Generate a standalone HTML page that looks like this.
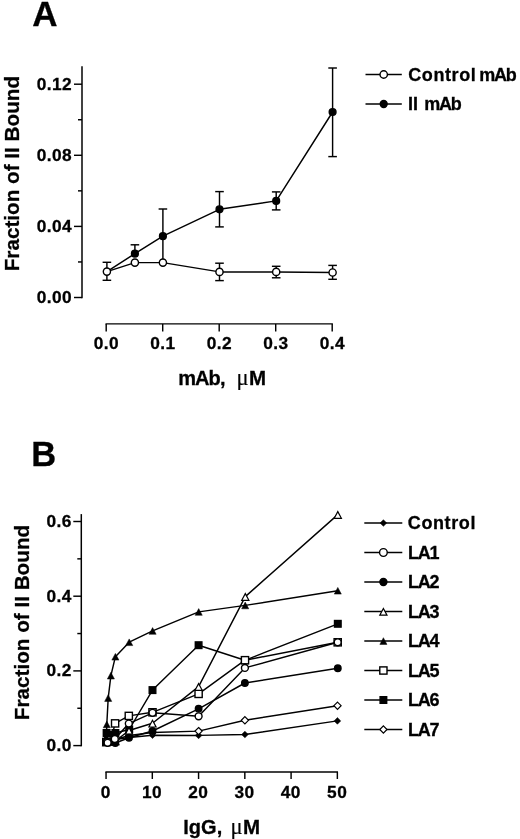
<!DOCTYPE html>
<html lang="en"><head><meta charset="utf-8"><title>Figure</title>
<style>
html,body{margin:0;padding:0;background:#fff;}
body{width:520px;height:839px;overflow:hidden;}
svg{display:block;will-change:transform;}
svg text{font-family:"Liberation Sans", Arial, Helvetica, sans-serif;font-weight:bold;fill:#000;stroke:#000;stroke-width:0.3px;}
</style></head><body>
<svg width="520" height="839" viewBox="0 0 520 839">
<defs><filter id="soft" x="0" y="0" width="520" height="839" filterUnits="userSpaceOnUse"><feGaussianBlur stdDeviation="0.45"/></filter></defs>
<rect width="520" height="839" fill="#fff"/>
<g opacity="0.999" filter="url(#soft)">
<text x="32.30" y="25.90" font-size="35" text-anchor="start" >A</text>
<line x1="82.00" y1="66.30" x2="82.00" y2="298.20" stroke="#000" stroke-width="1.5"/>
<line x1="74.00" y1="297.50" x2="82.00" y2="297.50" stroke="#000" stroke-width="1.45"/>
<text x="72.20" y="302.80" font-size="17.3" text-anchor="end" letter-spacing="0.45" >0.00</text>
<line x1="74.00" y1="226.40" x2="82.00" y2="226.40" stroke="#000" stroke-width="1.45"/>
<text x="72.20" y="231.70" font-size="17.3" text-anchor="end" letter-spacing="0.45" >0.04</text>
<line x1="74.00" y1="155.30" x2="82.00" y2="155.30" stroke="#000" stroke-width="1.45"/>
<text x="72.20" y="160.60" font-size="17.3" text-anchor="end" letter-spacing="0.45" >0.08</text>
<line x1="74.00" y1="84.20" x2="82.00" y2="84.20" stroke="#000" stroke-width="1.45"/>
<text x="72.20" y="89.50" font-size="17.3" text-anchor="end" letter-spacing="0.45" >0.12</text>
<line x1="78.00" y1="261.95" x2="82.00" y2="261.95" stroke="#000" stroke-width="1.45"/>
<line x1="78.00" y1="190.85" x2="82.00" y2="190.85" stroke="#000" stroke-width="1.45"/>
<line x1="78.00" y1="119.75" x2="82.00" y2="119.75" stroke="#000" stroke-width="1.45"/>
<text transform="translate(19.1,173.6) rotate(-90)" font-size="20.7" text-anchor="middle">Fraction of II Bound</text>
<line x1="105.50" y1="323.90" x2="332.90" y2="323.90" stroke="#000" stroke-width="1.4"/>
<line x1="106.20" y1="323.90" x2="106.20" y2="331.50" stroke="#000" stroke-width="1.45"/>
<text x="106.40" y="349.00" font-size="17.3" text-anchor="middle" letter-spacing="0.45" >0.0</text>
<line x1="162.70" y1="323.90" x2="162.70" y2="331.50" stroke="#000" stroke-width="1.45"/>
<text x="162.90" y="349.00" font-size="17.3" text-anchor="middle" letter-spacing="0.45" >0.1</text>
<line x1="219.20" y1="323.90" x2="219.20" y2="331.50" stroke="#000" stroke-width="1.45"/>
<text x="219.40" y="349.00" font-size="17.3" text-anchor="middle" letter-spacing="0.45" >0.2</text>
<line x1="275.70" y1="323.90" x2="275.70" y2="331.50" stroke="#000" stroke-width="1.45"/>
<text x="275.90" y="349.00" font-size="17.3" text-anchor="middle" letter-spacing="0.45" >0.3</text>
<line x1="332.20" y1="323.90" x2="332.20" y2="331.50" stroke="#000" stroke-width="1.45"/>
<text x="332.40" y="349.00" font-size="17.3" text-anchor="middle" letter-spacing="0.45" >0.4</text>
<text x="178.20" y="384.60" font-size="20" text-anchor="start" letter-spacing="-1.0" >mAb</text>
<text x="219.90" y="384.60" font-size="20" text-anchor="start" >,</text>
<text x="236.6" y="384.6" font-size="22.5" style="font-family:'Liberation Serif','Times New Roman',serif;font-weight:normal;stroke-width:0.2">μ</text>
<text x="248.90" y="384.60" font-size="20.5" text-anchor="start" >M</text>
<line x1="134.90" y1="244.80" x2="134.90" y2="253.70" stroke="#000" stroke-width="1.45"/>
<line x1="130.60" y1="244.80" x2="139.20" y2="244.80" stroke="#000" stroke-width="1.45"/>
<line x1="162.90" y1="209.00" x2="162.90" y2="262.60" stroke="#000" stroke-width="1.45"/>
<line x1="158.60" y1="209.00" x2="167.20" y2="209.00" stroke="#000" stroke-width="1.45"/>
<line x1="219.50" y1="191.60" x2="219.50" y2="226.90" stroke="#000" stroke-width="1.45"/>
<line x1="215.20" y1="191.60" x2="223.80" y2="191.60" stroke="#000" stroke-width="1.45"/>
<line x1="215.20" y1="226.90" x2="223.80" y2="226.90" stroke="#000" stroke-width="1.45"/>
<line x1="276.20" y1="191.90" x2="276.20" y2="209.90" stroke="#000" stroke-width="1.45"/>
<line x1="271.90" y1="191.90" x2="280.50" y2="191.90" stroke="#000" stroke-width="1.45"/>
<line x1="271.90" y1="209.90" x2="280.50" y2="209.90" stroke="#000" stroke-width="1.45"/>
<line x1="332.60" y1="68.00" x2="332.60" y2="156.60" stroke="#000" stroke-width="1.45"/>
<line x1="328.30" y1="68.00" x2="336.90" y2="68.00" stroke="#000" stroke-width="1.45"/>
<line x1="328.30" y1="156.60" x2="336.90" y2="156.60" stroke="#000" stroke-width="1.45"/>
<line x1="106.90" y1="262.30" x2="106.90" y2="280.30" stroke="#000" stroke-width="1.45"/>
<line x1="102.60" y1="262.30" x2="111.20" y2="262.30" stroke="#000" stroke-width="1.45"/>
<line x1="102.60" y1="280.30" x2="111.20" y2="280.30" stroke="#000" stroke-width="1.45"/>
<line x1="219.50" y1="263.20" x2="219.50" y2="280.60" stroke="#000" stroke-width="1.45"/>
<line x1="215.20" y1="263.20" x2="223.80" y2="263.20" stroke="#000" stroke-width="1.45"/>
<line x1="215.20" y1="280.60" x2="223.80" y2="280.60" stroke="#000" stroke-width="1.45"/>
<line x1="276.20" y1="266.30" x2="276.20" y2="277.80" stroke="#000" stroke-width="1.45"/>
<line x1="271.90" y1="266.30" x2="280.50" y2="266.30" stroke="#000" stroke-width="1.45"/>
<line x1="271.90" y1="277.80" x2="280.50" y2="277.80" stroke="#000" stroke-width="1.45"/>
<line x1="332.60" y1="265.40" x2="332.60" y2="279.30" stroke="#000" stroke-width="1.45"/>
<line x1="328.30" y1="265.40" x2="336.90" y2="265.40" stroke="#000" stroke-width="1.45"/>
<line x1="328.30" y1="279.30" x2="336.90" y2="279.30" stroke="#000" stroke-width="1.45"/>
<polyline points="106.90,271.60 134.90,253.70 162.90,236.20 219.50,209.30 276.20,200.90 332.60,112.00" fill="none" stroke="#000" stroke-width="1.45" stroke-linejoin="round"/>
<polyline points="106.90,271.60 134.90,262.60 162.90,262.60 219.50,271.90 276.20,271.90 332.60,272.50" fill="none" stroke="#000" stroke-width="1.45" stroke-linejoin="round"/>
<circle cx="134.90" cy="253.70" r="3.4" fill="#000" stroke="#000" stroke-width="1.4"/>
<circle cx="162.90" cy="236.20" r="3.4" fill="#000" stroke="#000" stroke-width="1.4"/>
<circle cx="219.50" cy="209.30" r="3.4" fill="#000" stroke="#000" stroke-width="1.4"/>
<circle cx="276.20" cy="200.90" r="3.4" fill="#000" stroke="#000" stroke-width="1.4"/>
<circle cx="332.60" cy="112.00" r="3.4" fill="#000" stroke="#000" stroke-width="1.4"/>
<circle cx="106.90" cy="271.60" r="3.6" fill="#fff" stroke="#000" stroke-width="1.4"/>
<circle cx="134.90" cy="262.60" r="3.6" fill="#fff" stroke="#000" stroke-width="1.4"/>
<circle cx="162.90" cy="262.60" r="3.6" fill="#fff" stroke="#000" stroke-width="1.4"/>
<circle cx="219.50" cy="271.90" r="3.6" fill="#fff" stroke="#000" stroke-width="1.4"/>
<circle cx="276.20" cy="271.90" r="3.6" fill="#fff" stroke="#000" stroke-width="1.4"/>
<circle cx="332.60" cy="272.50" r="3.6" fill="#fff" stroke="#000" stroke-width="1.4"/>
<line x1="365.50" y1="74.50" x2="401.80" y2="74.50" stroke="#000" stroke-width="1.4"/>
<circle cx="383.70" cy="74.50" r="3.7" fill="#fff" stroke="#000" stroke-width="1.4"/>
<line x1="365.50" y1="104.00" x2="401.80" y2="104.00" stroke="#000" stroke-width="1.4"/>
<circle cx="383.70" cy="104.00" r="3.45" fill="#000" stroke="#000" stroke-width="1.4"/>
<text x="408.20" y="80.80" font-size="18" text-anchor="start" letter-spacing="0.6" >Control</text>
<text x="479.30" y="80.80" font-size="18" text-anchor="start" letter-spacing="-1.25" >mAb</text>
<text x="408.00" y="110.30" font-size="18" text-anchor="start" >II</text>
<text x="424.20" y="110.30" font-size="18" text-anchor="start" letter-spacing="-1.25" >mAb</text>
<text x="31.20" y="465.90" font-size="34.5" text-anchor="start" >B</text>
<line x1="81.30" y1="514.10" x2="81.30" y2="746.30" stroke="#000" stroke-width="1.5"/>
<line x1="73.30" y1="745.60" x2="81.30" y2="745.60" stroke="#000" stroke-width="1.45"/>
<text x="71.90" y="750.90" font-size="17.3" text-anchor="end" letter-spacing="0.45" >0.0</text>
<line x1="73.30" y1="670.90" x2="81.30" y2="670.90" stroke="#000" stroke-width="1.45"/>
<text x="71.90" y="676.20" font-size="17.3" text-anchor="end" letter-spacing="0.45" >0.2</text>
<line x1="73.30" y1="596.20" x2="81.30" y2="596.20" stroke="#000" stroke-width="1.45"/>
<text x="71.90" y="601.50" font-size="17.3" text-anchor="end" letter-spacing="0.45" >0.4</text>
<line x1="73.30" y1="521.50" x2="81.30" y2="521.50" stroke="#000" stroke-width="1.45"/>
<text x="71.90" y="526.80" font-size="17.3" text-anchor="end" letter-spacing="0.45" >0.6</text>
<line x1="77.30" y1="708.25" x2="81.30" y2="708.25" stroke="#000" stroke-width="1.45"/>
<line x1="77.30" y1="633.55" x2="81.30" y2="633.55" stroke="#000" stroke-width="1.45"/>
<line x1="77.30" y1="558.85" x2="81.30" y2="558.85" stroke="#000" stroke-width="1.45"/>
<text transform="translate(28.8,622.5) rotate(-90)" font-size="20.7" text-anchor="middle">Fraction of II Bound</text>
<line x1="105.40" y1="772.00" x2="338.00" y2="772.00" stroke="#000" stroke-width="1.4"/>
<line x1="106.05" y1="772.00" x2="106.05" y2="779.00" stroke="#000" stroke-width="1.45"/>
<text x="105.85" y="797.70" font-size="17.3" text-anchor="middle" letter-spacing="0.45" >0</text>
<line x1="152.31" y1="772.00" x2="152.31" y2="779.00" stroke="#000" stroke-width="1.45"/>
<text x="152.11" y="797.70" font-size="17.3" text-anchor="middle" letter-spacing="0.45" >10</text>
<line x1="198.57" y1="772.00" x2="198.57" y2="779.00" stroke="#000" stroke-width="1.45"/>
<text x="198.37" y="797.70" font-size="17.3" text-anchor="middle" letter-spacing="0.45" >20</text>
<line x1="244.83" y1="772.00" x2="244.83" y2="779.00" stroke="#000" stroke-width="1.45"/>
<text x="244.63" y="797.70" font-size="17.3" text-anchor="middle" letter-spacing="0.45" >30</text>
<line x1="291.09" y1="772.00" x2="291.09" y2="779.00" stroke="#000" stroke-width="1.45"/>
<text x="290.89" y="797.70" font-size="17.3" text-anchor="middle" letter-spacing="0.45" >40</text>
<line x1="337.35" y1="772.00" x2="337.35" y2="779.00" stroke="#000" stroke-width="1.45"/>
<text x="337.15" y="797.70" font-size="17.3" text-anchor="middle" letter-spacing="0.45" >50</text>
<text x="183.30" y="833.80" font-size="20" text-anchor="start" >IgG,</text>
<text x="230.6" y="833.8" font-size="22.5" style="font-family:'Liberation Serif','Times New Roman',serif;font-weight:normal;stroke-width:0.2">μ</text>
<text x="242.90" y="833.80" font-size="20.5" text-anchor="start" >M</text>
<polyline points="106.30,741.00 108.20,740.50 110.90,740.00 115.40,739.50 129.20,737.50 152.50,735.20 198.60,735.40 244.90,734.50 337.40,720.90" fill="none" stroke="#000" stroke-width="1.45" stroke-linejoin="round"/>
<polygon points="106.30,737.65 109.65,741.00 106.30,744.35 102.95,741.00" fill="#000" stroke="#000" stroke-width="0.5"/>
<polygon points="108.20,737.15 111.55,740.50 108.20,743.85 104.85,740.50" fill="#000" stroke="#000" stroke-width="0.5"/>
<polygon points="110.90,736.65 114.25,740.00 110.90,743.35 107.55,740.00" fill="#000" stroke="#000" stroke-width="0.5"/>
<polygon points="115.40,736.15 118.75,739.50 115.40,742.85 112.05,739.50" fill="#000" stroke="#000" stroke-width="0.5"/>
<polygon points="129.20,734.15 132.55,737.50 129.20,740.85 125.85,737.50" fill="#000" stroke="#000" stroke-width="0.5"/>
<polygon points="152.50,731.85 155.85,735.20 152.50,738.55 149.15,735.20" fill="#000" stroke="#000" stroke-width="0.5"/>
<polygon points="198.60,732.05 201.95,735.40 198.60,738.75 195.25,735.40" fill="#000" stroke="#000" stroke-width="0.5"/>
<polygon points="244.90,731.15 248.25,734.50 244.90,737.85 241.55,734.50" fill="#000" stroke="#000" stroke-width="0.5"/>
<polygon points="337.40,717.55 340.75,720.90 337.40,724.25 334.05,720.90" fill="#000" stroke="#000" stroke-width="0.5"/>
<polyline points="106.30,742.00 108.20,741.50 110.90,741.00 115.40,739.50 129.20,735.50 152.50,732.50 198.60,731.10 244.90,720.30 337.50,705.70" fill="none" stroke="#000" stroke-width="1.45" stroke-linejoin="round"/>
<polygon points="106.30,738.40 109.90,742.00 106.30,745.60 102.70,742.00" fill="#fff" stroke="#000" stroke-width="1.2"/>
<polygon points="108.20,737.90 111.80,741.50 108.20,745.10 104.60,741.50" fill="#fff" stroke="#000" stroke-width="1.2"/>
<polygon points="110.90,737.40 114.50,741.00 110.90,744.60 107.30,741.00" fill="#fff" stroke="#000" stroke-width="1.2"/>
<polygon points="115.40,735.90 119.00,739.50 115.40,743.10 111.80,739.50" fill="#fff" stroke="#000" stroke-width="1.2"/>
<polygon points="129.20,731.90 132.80,735.50 129.20,739.10 125.60,735.50" fill="#fff" stroke="#000" stroke-width="1.2"/>
<polygon points="152.50,728.90 156.10,732.50 152.50,736.10 148.90,732.50" fill="#fff" stroke="#000" stroke-width="1.2"/>
<polygon points="198.60,727.50 202.20,731.10 198.60,734.70 195.00,731.10" fill="#fff" stroke="#000" stroke-width="1.2"/>
<polygon points="244.90,716.70 248.50,720.30 244.90,723.90 241.30,720.30" fill="#fff" stroke="#000" stroke-width="1.2"/>
<polygon points="337.50,702.10 341.10,705.70 337.50,709.30 333.90,705.70" fill="#fff" stroke="#000" stroke-width="1.2"/>
<polyline points="106.30,742.00 106.60,733.00 108.20,735.00 110.90,736.00 115.40,733.00 129.20,729.50 152.50,690.10 198.60,645.20 244.90,660.30 337.80,623.80" fill="none" stroke="#000" stroke-width="1.45" stroke-linejoin="round"/>
<rect x="103.00" y="738.70" width="6.6" height="6.6" fill="#000" stroke="#000" stroke-width="1.4"/>
<rect x="103.30" y="729.70" width="6.6" height="6.6" fill="#000" stroke="#000" stroke-width="1.4"/>
<rect x="104.90" y="731.70" width="6.6" height="6.6" fill="#000" stroke="#000" stroke-width="1.4"/>
<rect x="107.60" y="732.70" width="6.6" height="6.6" fill="#000" stroke="#000" stroke-width="1.4"/>
<rect x="112.10" y="729.70" width="6.6" height="6.6" fill="#000" stroke="#000" stroke-width="1.4"/>
<rect x="125.90" y="726.20" width="6.6" height="6.6" fill="#000" stroke="#000" stroke-width="1.4"/>
<rect x="149.20" y="686.80" width="6.6" height="6.6" fill="#000" stroke="#000" stroke-width="1.4"/>
<rect x="195.30" y="641.90" width="6.6" height="6.6" fill="#000" stroke="#000" stroke-width="1.4"/>
<rect x="241.60" y="657.00" width="6.6" height="6.6" fill="#000" stroke="#000" stroke-width="1.4"/>
<rect x="334.50" y="620.50" width="6.6" height="6.6" fill="#000" stroke="#000" stroke-width="1.4"/>
<polyline points="106.30,742.00 108.20,741.50 110.90,740.50 115.10,723.40 128.80,715.90 152.50,712.30 198.60,693.90 245.00,660.20 337.70,642.30" fill="none" stroke="#000" stroke-width="1.45" stroke-linejoin="round"/>
<rect x="102.70" y="738.40" width="7.2" height="7.2" fill="#fff" stroke="#000" stroke-width="1.4"/>
<rect x="104.60" y="737.90" width="7.2" height="7.2" fill="#fff" stroke="#000" stroke-width="1.4"/>
<rect x="107.30" y="736.90" width="7.2" height="7.2" fill="#fff" stroke="#000" stroke-width="1.4"/>
<rect x="111.50" y="719.80" width="7.2" height="7.2" fill="#fff" stroke="#000" stroke-width="1.4"/>
<rect x="125.20" y="712.30" width="7.2" height="7.2" fill="#fff" stroke="#000" stroke-width="1.4"/>
<rect x="148.90" y="708.70" width="7.2" height="7.2" fill="#fff" stroke="#000" stroke-width="1.4"/>
<rect x="195.00" y="690.30" width="7.2" height="7.2" fill="#fff" stroke="#000" stroke-width="1.4"/>
<rect x="241.40" y="656.60" width="7.2" height="7.2" fill="#fff" stroke="#000" stroke-width="1.4"/>
<rect x="334.10" y="638.70" width="7.2" height="7.2" fill="#fff" stroke="#000" stroke-width="1.4"/>
<polyline points="106.30,740.00 106.80,724.40 108.20,698.00 110.90,675.60 115.40,656.70 129.20,642.20 152.60,630.90 198.70,611.90 245.20,605.40 337.80,590.70" fill="none" stroke="#000" stroke-width="1.45" stroke-linejoin="round"/>
<polygon points="106.30,736.70 109.85,743.40 102.75,743.40" fill="#000" stroke="#000" stroke-width="0.5" stroke-linejoin="miter"/>
<polygon points="106.80,721.10 110.35,727.80 103.25,727.80" fill="#000" stroke="#000" stroke-width="0.5" stroke-linejoin="miter"/>
<polygon points="108.20,694.70 111.75,701.40 104.65,701.40" fill="#000" stroke="#000" stroke-width="0.5" stroke-linejoin="miter"/>
<polygon points="110.90,672.30 114.45,679.00 107.35,679.00" fill="#000" stroke="#000" stroke-width="0.5" stroke-linejoin="miter"/>
<polygon points="115.40,653.40 118.95,660.10 111.85,660.10" fill="#000" stroke="#000" stroke-width="0.5" stroke-linejoin="miter"/>
<polygon points="129.20,638.90 132.75,645.60 125.65,645.60" fill="#000" stroke="#000" stroke-width="0.5" stroke-linejoin="miter"/>
<polygon points="152.60,627.60 156.15,634.30 149.05,634.30" fill="#000" stroke="#000" stroke-width="0.5" stroke-linejoin="miter"/>
<polygon points="198.70,608.60 202.25,615.30 195.15,615.30" fill="#000" stroke="#000" stroke-width="0.5" stroke-linejoin="miter"/>
<polygon points="245.20,602.10 248.75,608.80 241.65,608.80" fill="#000" stroke="#000" stroke-width="0.5" stroke-linejoin="miter"/>
<polygon points="337.80,587.40 341.35,594.10 334.25,594.10" fill="#000" stroke="#000" stroke-width="0.5" stroke-linejoin="miter"/>
<polyline points="106.30,742.00 110.90,741.00 115.40,741.00 129.00,730.50 152.50,723.30 198.60,686.60 245.30,596.60 337.80,514.60" fill="none" stroke="#000" stroke-width="1.45" stroke-linejoin="round"/>
<polygon points="106.30,739.00 109.90,745.70 102.70,745.70" fill="#fff" stroke="#000" stroke-width="1.2" stroke-linejoin="miter"/>
<polygon points="110.90,738.00 114.50,744.70 107.30,744.70" fill="#fff" stroke="#000" stroke-width="1.2" stroke-linejoin="miter"/>
<polygon points="115.40,738.00 119.00,744.70 111.80,744.70" fill="#fff" stroke="#000" stroke-width="1.2" stroke-linejoin="miter"/>
<polygon points="129.00,727.50 132.60,734.20 125.40,734.20" fill="#fff" stroke="#000" stroke-width="1.2" stroke-linejoin="miter"/>
<polygon points="152.50,720.30 156.10,727.00 148.90,727.00" fill="#fff" stroke="#000" stroke-width="1.2" stroke-linejoin="miter"/>
<polygon points="198.60,683.60 202.20,690.30 195.00,690.30" fill="#fff" stroke="#000" stroke-width="1.2" stroke-linejoin="miter"/>
<polygon points="245.30,593.60 248.90,600.30 241.70,600.30" fill="#fff" stroke="#000" stroke-width="1.2" stroke-linejoin="miter"/>
<polygon points="337.80,511.60 341.40,518.30 334.20,518.30" fill="#fff" stroke="#000" stroke-width="1.2" stroke-linejoin="miter"/>
<polyline points="106.30,742.00 108.20,741.80 110.90,741.50 115.30,743.00 129.00,737.80 152.50,731.00 198.60,708.80 244.90,683.00 337.80,668.20" fill="none" stroke="#000" stroke-width="1.45" stroke-linejoin="round"/>
<circle cx="106.30" cy="742.00" r="3.25" fill="#000" stroke="#000" stroke-width="1.4"/>
<circle cx="108.20" cy="741.80" r="3.25" fill="#000" stroke="#000" stroke-width="1.4"/>
<circle cx="110.90" cy="741.50" r="3.25" fill="#000" stroke="#000" stroke-width="1.4"/>
<circle cx="115.30" cy="743.00" r="3.25" fill="#000" stroke="#000" stroke-width="1.4"/>
<circle cx="129.00" cy="737.80" r="3.25" fill="#000" stroke="#000" stroke-width="1.4"/>
<circle cx="152.50" cy="731.00" r="3.25" fill="#000" stroke="#000" stroke-width="1.4"/>
<circle cx="198.60" cy="708.80" r="3.25" fill="#000" stroke="#000" stroke-width="1.4"/>
<circle cx="244.90" cy="683.00" r="3.25" fill="#000" stroke="#000" stroke-width="1.4"/>
<circle cx="337.80" cy="668.20" r="3.25" fill="#000" stroke="#000" stroke-width="1.4"/>
<polyline points="107.60,742.80 114.80,739.00 128.80,723.60 152.50,712.80 198.60,716.30 244.90,667.90 337.70,642.30" fill="none" stroke="#000" stroke-width="1.45" stroke-linejoin="round"/>
<circle cx="107.60" cy="742.80" r="3.45" fill="#fff" stroke="#000" stroke-width="1.4"/>
<circle cx="114.80" cy="739.00" r="3.45" fill="#fff" stroke="#000" stroke-width="1.4"/>
<circle cx="128.80" cy="723.60" r="3.45" fill="#fff" stroke="#000" stroke-width="1.4"/>
<circle cx="152.50" cy="712.80" r="3.45" fill="#fff" stroke="#000" stroke-width="1.4"/>
<circle cx="198.60" cy="716.30" r="3.45" fill="#fff" stroke="#000" stroke-width="1.4"/>
<circle cx="244.90" cy="667.90" r="3.45" fill="#fff" stroke="#000" stroke-width="1.4"/>
<circle cx="337.70" cy="642.30" r="3.45" fill="#fff" stroke="#000" stroke-width="1.4"/>
<line x1="364.30" y1="523.00" x2="402.30" y2="523.00" stroke="#000" stroke-width="1.4"/>
<polygon points="383.40,519.65 386.75,523.00 383.40,526.35 380.05,523.00" fill="#000" stroke="#000" stroke-width="0.5"/>
<text x="407.80" y="529.40" font-size="18" text-anchor="start" letter-spacing="0.6" >Control</text>
<line x1="364.30" y1="552.50" x2="402.30" y2="552.50" stroke="#000" stroke-width="1.4"/>
<circle cx="383.40" cy="552.50" r="3.85" fill="#fff" stroke="#000" stroke-width="1.4"/>
<text x="408.00" y="558.90" font-size="18" text-anchor="start" letter-spacing="-1.2" >LA1</text>
<line x1="364.30" y1="582.00" x2="402.30" y2="582.00" stroke="#000" stroke-width="1.4"/>
<circle cx="383.40" cy="582.00" r="3.5" fill="#000" stroke="#000" stroke-width="1.4"/>
<text x="408.00" y="588.40" font-size="18" text-anchor="start" letter-spacing="-1.2" >LA2</text>
<line x1="364.30" y1="611.50" x2="402.30" y2="611.50" stroke="#000" stroke-width="1.4"/>
<polygon points="383.40,608.50 387.00,615.20 379.80,615.20" fill="#fff" stroke="#000" stroke-width="1.2" stroke-linejoin="miter"/>
<text x="408.00" y="617.90" font-size="18" text-anchor="start" letter-spacing="-1.2" >LA3</text>
<line x1="364.30" y1="641.00" x2="402.30" y2="641.00" stroke="#000" stroke-width="1.4"/>
<polygon points="383.40,637.70 386.95,644.40 379.85,644.40" fill="#000" stroke="#000" stroke-width="0.5" stroke-linejoin="miter"/>
<text x="408.00" y="647.40" font-size="18" text-anchor="start" letter-spacing="-1.2" >LA4</text>
<line x1="364.30" y1="670.50" x2="402.30" y2="670.50" stroke="#000" stroke-width="1.4"/>
<rect x="379.80" y="666.90" width="7.2" height="7.2" fill="#fff" stroke="#000" stroke-width="1.4"/>
<text x="408.00" y="676.90" font-size="18" text-anchor="start" letter-spacing="-1.2" >LA5</text>
<line x1="364.30" y1="700.00" x2="402.30" y2="700.00" stroke="#000" stroke-width="1.4"/>
<rect x="380.10" y="696.70" width="6.6" height="6.6" fill="#000" stroke="#000" stroke-width="1.4"/>
<text x="408.00" y="706.40" font-size="18" text-anchor="start" letter-spacing="-1.2" >LA6</text>
<line x1="364.30" y1="729.50" x2="402.30" y2="729.50" stroke="#000" stroke-width="1.4"/>
<polygon points="383.40,725.90 387.00,729.50 383.40,733.10 379.80,729.50" fill="#fff" stroke="#000" stroke-width="1.2"/>
<text x="408.00" y="735.90" font-size="18" text-anchor="start" letter-spacing="-1.2" >LA7</text>
</g>
</svg>
</body></html>
